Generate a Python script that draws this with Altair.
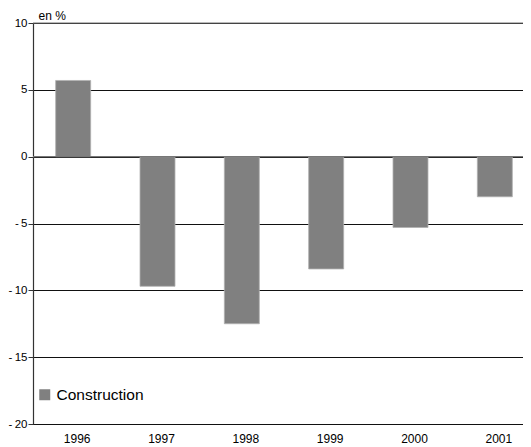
import altair as alt
import pandas as pd

years = ["1996", "1997", "1998", "1999", "2000", "2001"]
values = [5.7, -9.7, -12.5, -8.4, -5.3, -3.0]
series = ["Construction"] * len(years)
y_ticks = [-20, -15, -10, -5, 0, 5, 10]

df = pd.DataFrame({"year": years, "value": values, "series": series})
ref_df = pd.DataFrame({"v": [0, 10]})

FONT = "Liberation Sans"

x_enc = alt.X(
    "year:N",
    sort=years,
    scale=alt.Scale(paddingInner=0.585, paddingOuter=0.2925, range=[-2, 504]),
    axis=alt.Axis(
        title=None, ticks=False, domain=False, labelAngle=0,
        labelFont=FONT, labelFontSize=12, labelColor="#000",
        labelPadding=9, labelBaseline="top", labelOffset=4,
    ),
)

y_enc = alt.Y(
    "value:Q",
    scale=alt.Scale(domain=[-20, 10], nice=False, zero=False),
    axis=alt.Axis(
        values=y_ticks,
        labelExpr="datum.value < 0 ? '-\u2009' + format(-datum.value, 'd') : format(datum.value, 'd')",
        labelFont=FONT, labelFontSize=11.5, labelColor="#000", labelPadding=1,
        tickSize=5, tickColor="#333", domainColor="#333", domainWidth=1.2,
        grid=True, gridColor="#111", gridWidth=1, gridOpacity=1,
        title="en %", titleAngle=0, titleAlign="left", titleBaseline="middle",
        titleX=5, titleY=-8, titleFont=FONT, titleFontSize=12,
        titleFontWeight="normal", titleColor="#000",
    ),
)

bars = alt.Chart(df).mark_bar(stroke="#b0b0b0", strokeWidth=0.8).encode(
    x=x_enc,
    y=y_enc,
    color=alt.Color(
        "series:N",
        scale=alt.Scale(domain=["Construction"], range=["#808080"]),
        legend=alt.Legend(
            title=None, orient="none", legendX=4, legendY=364, padding=0,
            symbolType="square", symbolSize=121, symbolStrokeWidth=0,
            labelFont=FONT, labelFontSize=15.5, labelColor="#000",
            labelOffset=4, labelBaseline="middle",
        ),
    ),
)

ref_rules = alt.Chart(ref_df).mark_rule(color="#777", strokeWidth=1.2).encode(
    y=alt.Y("v:Q", scale=alt.Scale(domain=[-20, 10], nice=False, zero=False))
)

chart = alt.layer(bars, ref_rules).properties(
    width=490,
    height=401,
    autosize=alt.AutoSizeParams(type="none"),
    padding={"left": 25, "top": 15, "right": 0, "bottom": 20},
    background="white",
).configure_view(stroke=None)

chart.save("out.html", embed_options={"renderer": "svg", "actions": False})
